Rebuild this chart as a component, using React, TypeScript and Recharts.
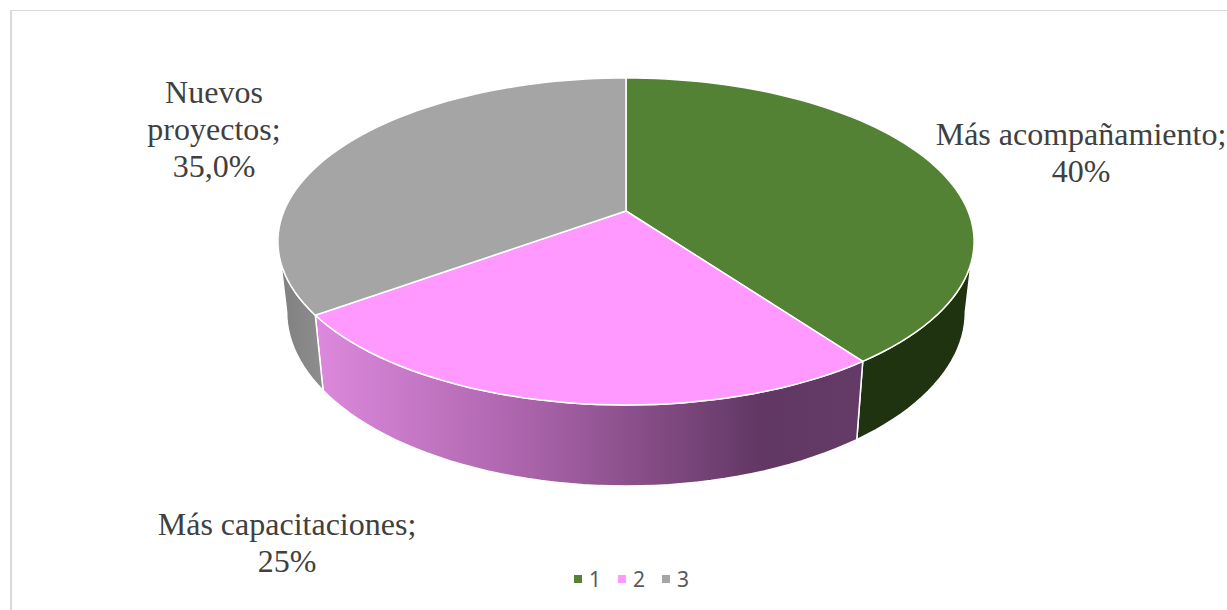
import { Legend, Pie, PieChart } from "recharts";

const CATEGORIES = ["1", "2", "3"];
const SHARES = [40, 25, 35];
const TOP_COLORS = ["#548235", "#ff99ff", "#a5a5a5"];
const LABEL_LINES = [
  ["Más acompañamiento;", "40%"],
  ["Más capacitaciones;", "25%"],
  ["Nuevos", "proyectos;", "35,0%"],
];
const LABEL_ANCHORS = [
  { x: 1081, y: 145 },
  { x: 287, y: 535 },
  { x: 214, y: 103 },
];

const rows = CATEGORIES.map((name, i) => ({ name, value: SHARES[i], fill: TOP_COLORS[i] }));

// perspective disc: unit circle (u, v) projected on screen, one plane per face
const TOP_FACE = { cx: 626, cy: 211, a: 342, b: 157.8, k: 0.1865 };
const BOTTOM_FACE = { cx: 626, cy: 279.5, a: 333.4, b: 168, k: 0.1865 };
type Face = typeof TOP_FACE;

// visible range of the side wall, degrees clockwise from 12 o'clock
const TOP_WALL_RANGE = [108, 252];
const BOTTOM_WALL_RANGE = [100.7, 259.3];

function project(face: Face, deg: number) {
  const t = (deg * Math.PI) / 180;
  const u = Math.sin(t);
  const v = -Math.cos(t);
  const w = 1 - face.k * v;
  return [face.cx + (face.a * u) / w, face.cy + (face.b * v) / w];
}

function arcPoints(face: Face, from: number, to: number) {
  const steps = Math.max(2, Math.ceil(Math.abs(to - from) / 2));
  const pts: string[] = [];
  for (let i = 0; i <= steps; i++) {
    const [x, y] = project(face, from + ((to - from) * i) / steps);
    pts.push(`${x.toFixed(2)} ${y.toFixed(2)}`);
  }
  return pts;
}

function wallPath(from: number, to: number) {
  const clamp = (d: number, range: number[]) => Math.min(range[1], Math.max(range[0], d));
  const upper = arcPoints(TOP_FACE, clamp(from, TOP_WALL_RANGE), clamp(to, TOP_WALL_RANGE));
  const lower = arcPoints(BOTTOM_FACE, clamp(to, BOTTOM_WALL_RANGE), clamp(from, BOTTOM_WALL_RANGE));
  return `M${[...upper, ...lower].join("L")}Z`;
}

function wallFill(index: number) {
  if (index === 0) return "#203311";
  if (index === 1) return "url(#wall-pink)";
  return "url(#wall-gray)";
}

function DiscSlice(props: any) {
  const { startAngle, endAngle, fill, index } = props;
  const from = 90 - startAngle;
  const to = 90 - endAngle;
  const face = arcPoints(TOP_FACE, from, to);
  const hasWall = to > TOP_WALL_RANGE[0] && from < TOP_WALL_RANGE[1];
  return (
    <g>
      <defs>
        <linearGradient id="wall-pink" gradientUnits="userSpaceOnUse" x1={320} y1={0} x2={860} y2={0}>
          <stop offset="0" stopColor="#dc88dc" />
          <stop offset="0.4" stopColor="#a862a8" />
          <stop offset="0.82" stopColor="#613763" />
          <stop offset="1" stopColor="#643a66" />
        </linearGradient>
        <linearGradient id="wall-gray" gradientUnits="userSpaceOnUse" x1={280} y1={0} x2={325} y2={0}>
          <stop offset="0" stopColor="#808080" />
          <stop offset="1" stopColor="#8e8e8e" />
        </linearGradient>
      </defs>
      {hasWall ? (
        <path d={wallPath(from, to)} fill={wallFill(index)} stroke="#fff" strokeWidth={1.5} strokeLinejoin="round" />
      ) : null}
      <path
        d={`M${TOP_FACE.cx} ${TOP_FACE.cy}L${face.join("L")}Z`}
        fill={fill}
        stroke="#fff"
        strokeWidth={1.5}
        strokeLinejoin="round"
      />
    </g>
  );
}

function SliceLabel(props: any) {
  const { index } = props;
  const at = LABEL_ANCHORS[index];
  return (
    <text
      x={at.x}
      y={at.y}
      textAnchor="middle"
      fontFamily="'Liberation Serif', serif"
      fontSize={32}
      fill="#404040"
    >
      {LABEL_LINES[index].map((line, i) => (
        <tspan key={line} x={at.x} dy={i === 0 ? 0 : 37}>
          {line}
        </tspan>
      ))}
    </text>
  );
}

function LegendRow({ payload }: any) {
  return (
    <div style={{ display: "flex", fontFamily: "'Noto Sans', sans-serif", fontSize: 21, lineHeight: "26px", color: "#595959" }}>
      {(payload || []).map((item: any) => (
        <div key={item.value} style={{ display: "flex", alignItems: "center", width: 44 }}>
          <span style={{ width: 8, height: 8, background: item.color, marginRight: 7 }} />
          <span>{item.value}</span>
        </div>
      ))}
    </div>
  );
}

export default function App() {
  return (
    <div style={{ position: "absolute", left: 0, top: 0, width: 1227, height: 610, background: "#fff", overflow: "hidden" }}>
      <div
        style={{
          position: "absolute",
          left: 10,
          top: 10,
          width: 1217,
          height: 600,
          borderLeft: "2px solid #d9d9d9",
          borderTop: "1px solid #d9d9d9",
        }}
      />
      <div style={{ position: "absolute", left: 0, top: 0 }}>
        <PieChart width={1227} height={610} margin={{ top: 0, right: 0, bottom: 0, left: 0 }}>
          <Pie
            data={rows}
            dataKey="value"
            nameKey="name"
            cx={626}
            cy={211}
            outerRadius={158}
            startAngle={90}
            endAngle={-270}
            isAnimationActive={false}
            shape={DiscSlice}
            label={SliceLabel}
            labelLine={false}
          />
          <Legend
            content={LegendRow}
            verticalAlign="top"
            wrapperStyle={{ position: "absolute", left: 574, top: 566, width: 140 }}
          />
        </PieChart>
      </div>
    </div>
  );
}
